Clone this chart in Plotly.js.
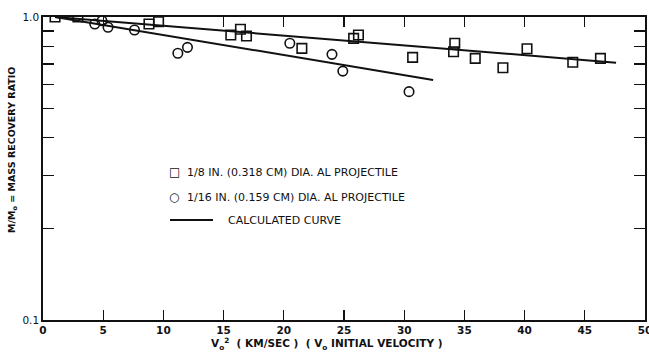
<!DOCTYPE html>
<html>
<head>
<meta charset="utf-8">
<script src="https://cdn.plot.ly/plotly-3.0.1.min.js"></script>
<style>html,body{margin:0;padding:0;background:#fff;}#chart{width:649px;height:352px;}</style>
</head>
<body>
<div id="chart"></div>
<script>
// 1/8 in. (0.318 cm) dia. Al projectile (squares)
const sqX = [1.0, 2.9, 8.8, 9.6, 15.6, 16.4, 16.9, 21.5, 25.8, 26.2, 30.7, 34.1, 34.2, 35.9, 38.2, 40.2, 44.0, 46.3];
const sqY = [1.0, 1.0, 0.948, 0.965, 0.872, 0.911, 0.866, 0.788, 0.85, 0.872, 0.736, 0.768, 0.819, 0.730, 0.680, 0.786, 0.709, 0.730];
// 1/16 in. (0.159 cm) dia. Al projectile (circles)
const ciX = [4.3, 4.9, 5.4, 7.6, 11.2, 12.0, 20.5, 24.0, 24.9, 30.4];
const ciY = [0.948, 0.972, 0.925, 0.906, 0.759, 0.794, 0.819, 0.753, 0.663, 0.567];
// Calculated curves
const upX = [1, 10, 20, 30, 40, 47.6];
const upY = [1.0, 0.935, 0.868, 0.806, 0.748, 0.707];
const loX = [1, 5, 10, 15, 20, 25, 32.4];
const loY = [1.0, 0.941, 0.872, 0.808, 0.749, 0.694, 0.620];
const xTicks = [0, 5, 10, 15, 20, 25, 30, 35, 40, 45, 50];
const yMajor = [0.1, 1.0];
const yMajorText = ['0.1', '1.0'];
const yMinor = [0.2, 0.3, 0.4, 0.5, 0.6, 0.7, 0.8, 0.9];
const legendLabels = ['1/8 IN. (0.318 CM) DIA. AL PROJECTILE', '1/16 IN. (0.159 CM) DIA. AL PROJECTILE', 'CALCULATED CURVE'];

const FONT = 'DejaVu Sans, Liberation Sans, Arial, sans-serif';
const INK = '#111';

const traces = [
  {x: upX, y: upY, mode: 'lines', line: {color: INK, width: 2}, hoverinfo: 'skip'},
  {x: loX, y: loY, mode: 'lines', line: {color: INK, width: 2}, hoverinfo: 'skip'},
  {x: sqX, y: sqY, mode: 'markers', marker: {symbol: 'square-open', size: 9.5, color: INK, line: {width: 1.6, color: INK}}},
  {x: ciX, y: ciY, mode: 'markers', marker: {symbol: 'circle-open', size: 9.5, color: INK, line: {width: 1.6, color: INK}}}
];

const L = 43, R = 4, T = 17, B = 32, W = 649, H = 352;
const pw = W - L - R, ph = H - T - B;
const px = v => (v - L) / pw;
const py = v => (H - B - v) / ph;

const layout = {
  width: W, height: H,
  margin: {l: L, r: R, t: T, b: B, pad: 0},
  paper_bgcolor: '#fff', plot_bgcolor: '#fff',
  showlegend: false,
  font: {family: FONT, color: INK, size: 10},
  xaxis: {
    range: [0, 50], tickvals: xTicks, ticktext: xTicks.map(String),
    ticks: 'inside', ticklen: 10, tickwidth: 1.3, tickcolor: INK,
    showline: true, linecolor: INK, linewidth: 1.6, mirror: 'ticks',
    showgrid: false, zeroline: false, ticklabeloverflow: 'allow',
    tickfont: {family: FONT, size: 10.5, color: INK, weight: 'bold'}
  },
  yaxis: {
    type: 'log', range: [-1, 0], tickvals: yMajor, ticktext: yMajorText,
    ticks: 'inside', ticklen: 11, tickwidth: 1.3, tickcolor: INK,
    minor: {tickvals: yMinor, ticks: 'inside', ticklen: 11, tickwidth: 1.3, tickcolor: INK, showgrid: false},
    showline: true, linecolor: INK, linewidth: 1.8, mirror: 'ticks',
    showgrid: false, zeroline: false,
    tickfont: {family: FONT, size: 10.5, color: INK}
  },
  shapes: [
    {type: 'line', xref: 'paper', yref: 'paper', x0: px(170), x1: px(213), y0: py(220), y1: py(220), line: {color: INK, width: 2}}
  ],
  annotations: [
    {xref: 'paper', yref: 'paper', x: px(174), y: py(172), text: '□', showarrow: false, font: {family: 'DejaVu Sans', size: 12, color: INK}, xanchor: 'center', yanchor: 'middle'},
    {xref: 'paper', yref: 'paper', x: px(174), y: py(197), text: '○', showarrow: false, font: {family: 'DejaVu Sans', size: 12, color: INK}, xanchor: 'center', yanchor: 'middle'},
    {xref: 'paper', yref: 'paper', x: px(185), y: py(172), text: legendLabels[0], showarrow: false, xanchor: 'left', yanchor: 'middle', font: {family: FONT, size: 11, color: INK}},
    {xref: 'paper', yref: 'paper', x: px(185), y: py(197), text: legendLabels[1], showarrow: false, xanchor: 'left', yanchor: 'middle', font: {family: FONT, size: 11, color: INK}},
    {xref: 'paper', yref: 'paper', x: px(226), y: py(220), text: legendLabels[2], showarrow: false, xanchor: 'left', yanchor: 'middle', font: {family: FONT, size: 11, color: INK}},
    {xref: 'paper', yref: 'paper', x: px(327), y: py(344), text: 'V<sub>o</sub><sup>2</sup>  ( KM/SEC )  ( V<sub>o</sub> INITIAL VELOCITY )', showarrow: false, xanchor: 'center', yanchor: 'middle', font: {family: FONT, size: 10.5, color: INK, weight: 'bold'}},
    {xref: 'paper', yref: 'paper', x: px(12), y: py(150), text: 'M/M<sub>o</sub> = MASS RECOVERY RATIO', textangle: -90, showarrow: false, xanchor: 'center', yanchor: 'middle', font: {family: FONT, size: 9.5, color: INK, weight: 'bold'}}
  ]
};

Plotly.newPlot('chart', traces, layout, {displayModeBar: false, staticPlot: true});
</script>
</body>
</html>
